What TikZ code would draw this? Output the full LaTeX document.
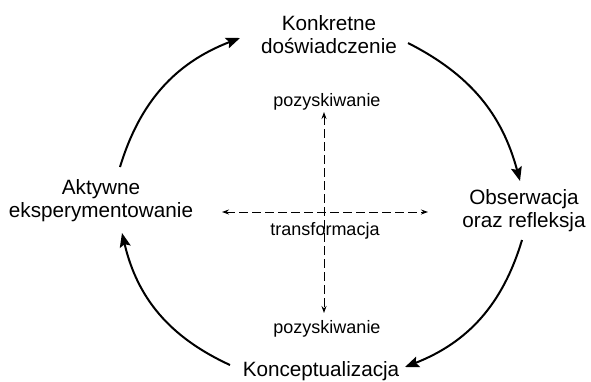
\documentclass[tikz,border=0pt]{standalone}
\usepackage{fontspec}
\setmainfont{Liberation Sans}
\usetikzlibrary{arrows.meta}
\begin{document}
\begin{tikzpicture}[x=1pt,y=-1pt,
  bigtext/.style={font=\fontsize{20.7}{23}\selectfont, inner sep=0pt, align=center, anchor=base},
  smalltext/.style={font=\fontsize{18}{20}\selectfont, inner sep=0pt, anchor=base},
  cyclearrow/.style={line width=2pt, -{Stealth[length=14pt,width=11pt,inset=2.5pt]}},
  crossarrow/.style={line width=0.9pt, dash pattern=on 9pt off 4pt,
    {Stealth[length=7pt,width=5pt]}-{Stealth[length=7pt,width=5pt]}}]
\useasboundingbox (0,0) rectangle (591,381);

% stages (base anchor = baseline of the last line)
\node[bigtext] (kd) at (329,53) {Konkretne\\doświadczenie};
\node[bigtext] (or) at (524,227) {Obserwacja\\oraz refleksja};
\node[bigtext] (ae) at (101,217) {Aktywne\\eksperymentowanie};
\node[bigtext] (ko) at (321,376) {Konceptualizacja};

% axis labels
\node[smalltext] (pt) at (327,106) {pozyskiwanie};
\node[smalltext] (tr) at (325,235) {transformacja};
\node[smalltext] (pb) at (327,333) {pozyskiwanie};

% arc end points
\coordinate (trs) at (408,43);
\coordinate (tre) at (520,181);
\coordinate (brs) at (522,240);
\coordinate (bre) at (405,367);
\coordinate (bls) at (230,365);
\coordinate (ble) at (122,233);
\coordinate (tls) at (120,167);
\coordinate (tle) at (240,38);

\draw[cyclearrow] (trs) to[bend left=24] (tre);
\draw[cyclearrow] (brs) to[bend left=26] (bre);
\draw[cyclearrow] (bls) to[bend left=26] (ble);
\draw[cyclearrow] (tls) to[bend left=26] (tle);

% cross
\coordinate (vt) at (324,112);
\coordinate (vb) at (324,313);
\coordinate (hl) at (222,212);
\coordinate (hr) at (428,212);
\draw[crossarrow] (vt) -- (vb);
\draw[crossarrow] (hl) -- (hr);
\end{tikzpicture}
\end{document}
